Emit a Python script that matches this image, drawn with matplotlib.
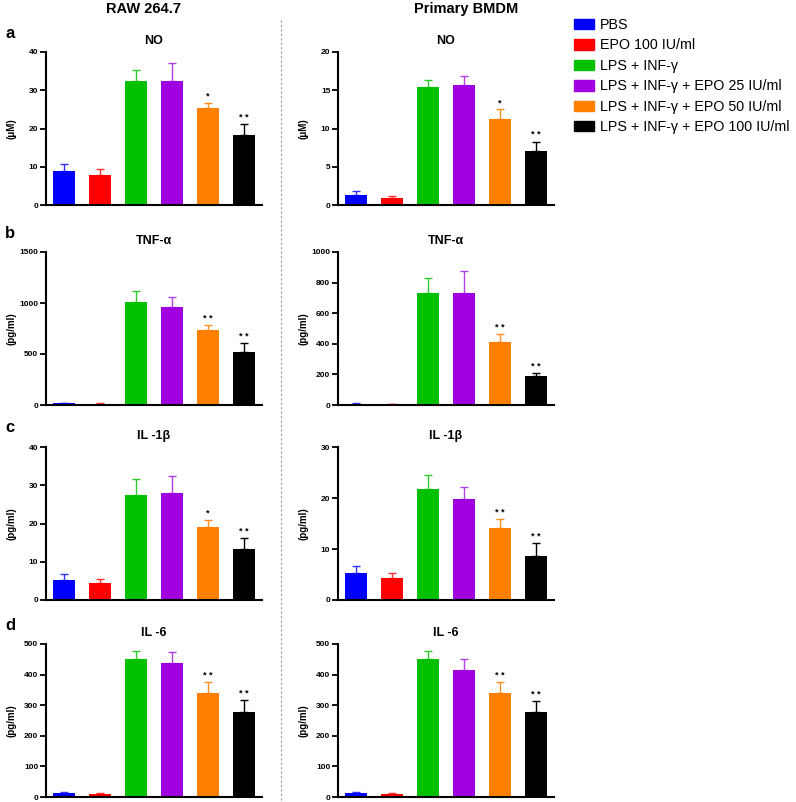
import numpy as np
import matplotlib
matplotlib.use("Agg")
from matplotlib import pyplot as plt
from matplotlib.lines import Line2D
from matplotlib.patches import Patch

plt.rcParams['font.family'] = ['Liberation Sans', 'DejaVu Sans']

groups = ["PBS", "EPO 100 IU/ml", "LPS + INF-γ", "LPS + INF-γ + EPO 25 IU/ml",
          "LPS + INF-γ + EPO 50 IU/ml", "LPS + INF-γ + EPO 100 IU/ml"]
bar_colors = ["#0000ff", "#ff0000", "#00c000", "#a000e0", "#ff8000", "#000000"]
err_colors = ["#3030ff", "#ff3030", "#30c830", "#b040e8", "#ff9020", "#000000"]

# panel a: NO
no_raw = [9.0, 7.8, 32.3, 32.3, 25.4, 18.4]
no_raw_sem = [1.7, 1.5, 3.1, 4.7, 1.3, 2.7]
no_bmdm = [1.3, 0.9, 15.4, 15.7, 11.2, 7.1]
no_bmdm_sem = [0.5, 0.3, 0.9, 1.1, 1.3, 1.2]
# panel b: TNF-a
tnf_raw = [15, 12, 1010, 957, 739, 523]
tnf_raw_sem = [5, 4, 108, 102, 49, 85]
tnf_bmdm = [8, 6, 734, 730, 412, 190]
tnf_bmdm_sem = [3, 2, 94, 146, 54, 21]
# panel c: IL-1b
il1_raw = [5.3, 4.4, 27.5, 28.1, 19.1, 13.4]
il1_raw_sem = [1.4, 1.0, 4.1, 4.2, 1.8, 2.9]
il1_bmdm = [5.2, 4.4, 21.7, 19.8, 14.2, 8.6]
il1_bmdm_sem = [1.5, 0.9, 2.9, 2.4, 1.7, 2.6]
# panel d: IL-6
il6_raw = [12, 10, 450, 438, 340, 279]
il6_raw_sem = [4, 3, 26, 36, 36, 37]
il6_bmdm = [12, 10, 450, 414, 340, 279]
il6_bmdm_sem = [4, 3, 26, 36, 36, 36]

stars_no_raw = ["", "", "", "", "*", "* *"]
stars_no_bmdm = ["", "", "", "", "*", "* *"]
stars_tnf = ["", "", "", "", "* *", "* *"]
stars_il1_raw = ["", "", "", "", "*", "* *"]
stars_il1_bmdm = ["", "", "", "", "* *", "* *"]
stars_il6 = ["", "", "", "", "* *", "* *"]

rows = [
    ("a", "NO", "(μM)",
     (no_raw, no_raw_sem, stars_no_raw, 40, [0, 10, 20, 30, 40]),
     (no_bmdm, no_bmdm_sem, stars_no_bmdm, 20, [0, 5, 10, 15, 20])),
    ("b", "TNF-α", "(pg/ml)",
     (tnf_raw, tnf_raw_sem, stars_tnf, 1500, [0, 500, 1000, 1500]),
     (tnf_bmdm, tnf_bmdm_sem, stars_tnf, 1000, [0, 200, 400, 600, 800, 1000])),
    ("c", "IL -1β", "(pg/ml)",
     (il1_raw, il1_raw_sem, stars_il1_raw, 40, [0, 10, 20, 30, 40]),
     (il1_bmdm, il1_bmdm_sem, stars_il1_bmdm, 30, [0, 10, 20, 30])),
    ("d", "IL -6", "(pg/ml)",
     (il6_raw, il6_raw_sem, stars_il6, 500, [0, 100, 200, 300, 400, 500]),
     (il6_bmdm, il6_bmdm_sem, stars_il6, 500, [0, 100, 200, 300, 400, 500])),
]

W, H = 796, 802
fig = plt.figure(figsize=(W / 100, H / 100), dpi=100)

col_left = [46, 338]
ax_w = 216
ax_h = 153
row_bottom = [205, 405, 600, 797]
x = np.arange(6) + 0.5


def draw_panel(ax, vals, sems, stars, ymax, ticks, title, ylabel):
    ax.bar(x, vals, width=0.6, color=bar_colors, zorder=2)
    for i in range(6):
        ax.errorbar(x[i], vals[i], yerr=[[0], [sems[i]]], fmt="none",
                    ecolor=err_colors[i], elinewidth=1.0, capsize=3.2,
                    capthick=1.0, zorder=1)
        if stars[i]:
            ax.annotate(stars[i], (x[i], vals[i] + sems[i]), xytext=(0, 1.5),
                        textcoords="offset points", ha="center", va="bottom",
                        fontsize=6.5, fontweight="bold")
    ax.set_xlim(0, 6)
    ax.set_ylim(0, ymax)
    ax.set_yticks(ticks)
    ax.set_xticks([])
    ax.spines["top"].set_visible(False)
    ax.spines["right"].set_visible(False)
    ax.spines["left"].set_linewidth(1.5)
    ax.spines["bottom"].set_linewidth(1.5)
    ax.tick_params(axis="y", direction="out", length=4, width=1.3,
                   labelsize=6, pad=1.5)
    for lab in ax.get_yticklabels():
        lab.set_fontweight("bold")
    ax.set_ylabel(ylabel, fontsize=7, fontweight="bold")
    ax.yaxis.set_label_coords(-0.135, 0.5)
    ax.set_title(title, fontsize=9, fontweight="bold", pad=6)


for r, (letter, title, ylabel, left_data, right_data) in enumerate(rows):
    for c, data in enumerate([left_data, right_data]):
        ax = fig.add_axes([col_left[c] / W, 1 - row_bottom[r] / H,
                           ax_w / W, ax_h / H])
        vals, sems, stars, ymax, ticks = data
        draw_panel(ax, vals, sems, stars, ymax, ticks, title, ylabel)
    fig.text(5 / W, 1 - (row_bottom[r] - ax_h - 19) / H, letter,
             fontsize=12, fontweight="bold", ha="left", va="center")

fig.text(143 / W, 1 - 9 / H, "RAW 264.7", fontsize=10.5, fontweight="bold",
         ha="center", va="center")
fig.text(466 / W, 1 - 9 / H, "Primary BMDM", fontsize=10.5, fontweight="bold",
         ha="center", va="center")

# dashed divider between the two columns
fig.add_artist(Line2D([281 / W, 281 / W], [1 - 20 / H, 1 - 800 / H],
                      transform=fig.transFigure, color="#999999",
                      linestyle=(0, (2, 2)), linewidth=0.8))

handles = [Patch(facecolor=col, edgecolor=col) for col in bar_colors]
fig.legend(handles, groups, loc="upper left",
           bbox_to_anchor=(574 / W, 1 - 18 / H), frameon=False,
           fontsize=10.3, handlelength=1.4, handleheight=0.75,
           handletextpad=0.4, labelspacing=0.45, borderpad=0,
           borderaxespad=0)

fig.savefig("out.png", dpi=100)
